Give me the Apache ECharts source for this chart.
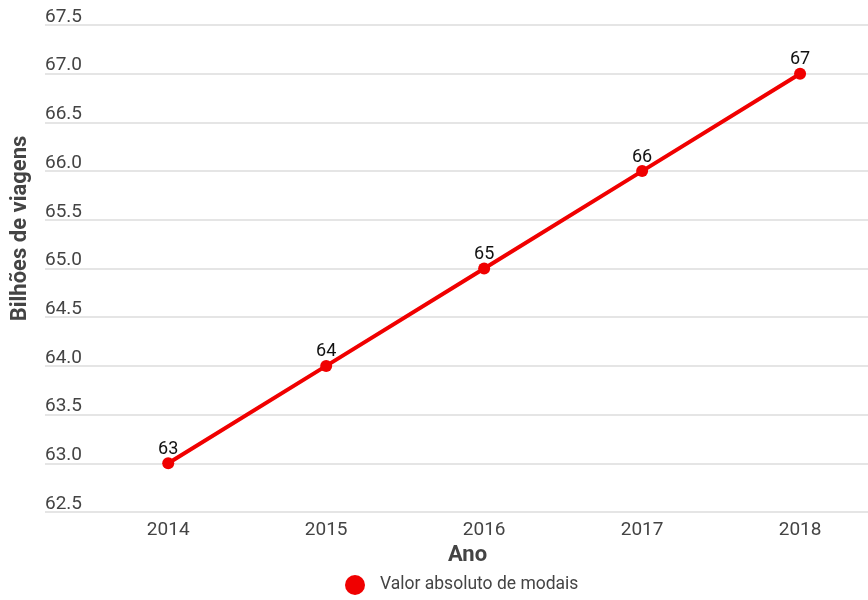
<!DOCTYPE html>
<html>
<head>
<meta charset="utf-8">
<script src="https://cdn.jsdelivr.net/npm/echarts@6/dist/echarts.min.js"></script>
<style>html,body{margin:0;padding:0;background:#fff;}#c{width:868px;height:600px;}</style>
</head>
<body>
<div id="c"></div>
<script>
const years = [2014, 2015, 2016, 2017, 2018];
const viagens = [63, 64, 65, 66, 67];
const seriesName = 'Valor absoluto de modais';

const chart = echarts.init(document.getElementById('c'));
const red = '#f00000';
chart.setOption({
  animation: false,
  textStyle: { fontFamily: 'Roboto' },
  grid: { left: 45, right: 0, top: 25, bottom: 88 },
  xAxis: {
    type: 'value',
    min: 2013.22,
    max: 2018.43,
    name: 'Ano',
    nameLocation: 'middle',
    nameGap: 32,
    nameTextStyle: { fontSize: 22, fontWeight: 'bold', color: '#444', fontFamily: 'Roboto', padding: [0, 0, 0, 22] },
    axisLine: { show: false },
    axisTick: { show: false },
    splitLine: { show: false },
    axisLabel: { customValues: years, fontSize: 19, color: '#444', margin: 9, formatter: v => String(v) }
  },
  yAxis: {
    type: 'value',
    min: 62.5,
    max: 67.5,
    interval: 0.5,
    name: 'Bilhões de viagens',
    nameLocation: 'middle',
    nameRotate: 90,
    nameGap: 14,
    nameTextStyle: { fontSize: 22, fontWeight: 'bold', color: '#444', fontFamily: 'Roboto', padding: [0, 0, 0, 80] },
    axisLine: { show: false },
    axisTick: { show: false },
    splitLine: { lineStyle: { color: '#dddddd', width: 1.5 } },
    axisLabel: {
      inside: true, fontSize: 19, color: '#444', verticalAlign: 'bottom', margin: 0,
      lineHeight: 16, formatter: v => v.toFixed(1)
    }
  },
  legend: {
    bottom: 0,
    padding: 5,
    left: 340,
    icon: 'circle',
    itemWidth: 20,
    itemHeight: 20,
    itemGap: 10,
    textStyle: { fontSize: 17.5, color: '#444', fontFamily: 'Roboto', padding: [0, 0, 0, 10] },
    data: [seriesName]
  },
  series: [{
    name: seriesName,
    type: 'line',
    data: years.map((y, i) => [y, viagens[i]]),
    symbol: 'circle',
    symbolSize: 12,
    itemStyle: { color: red },
    lineStyle: { color: red, width: 4 },
    label: { show: true, position: 'top', distance: 0, fontSize: 18, lineHeight: 16, color: '#111', fontFamily: 'Roboto' }
  }]
});
</script>
</body>
</html>
